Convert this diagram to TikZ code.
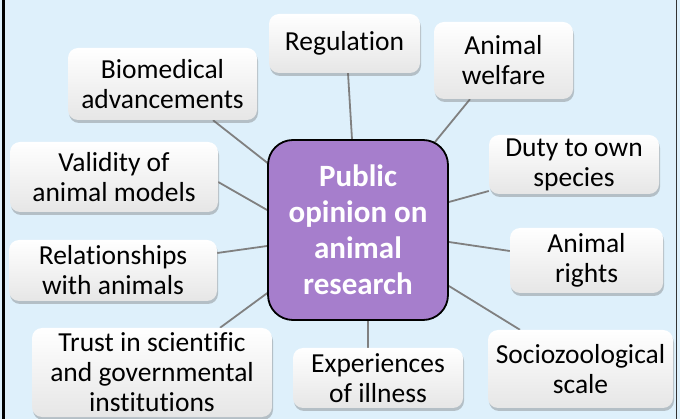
\documentclass[tikz,border=0pt]{standalone}
\usepackage{fontspec}
\setmainfont[Ligatures=NoCommon]{Carlito}
\usetikzlibrary{shadows}
\pgfdeclarelayer{canvasbg}
\pgfdeclarelayer{connectors}
\pgfsetlayers{canvasbg,connectors,main}
\definecolor{bgblue}{RGB}{222,240,251}
\definecolor{pubpurple}{RGB}{166,126,204}
\definecolor{conngray}{RGB}{128,128,128}
\definecolor{boxbottom}{RGB}{230,230,230}
\tikzset{
  topic/.style={rounded corners=10pt, top color=white, bottom color=boxbottom,
    draw=none, align=center, inner sep=0pt,
    font=\fontsize{27.5}{30}\selectfont,
    drop shadow={shadow xshift=1pt, shadow yshift=-3pt, opacity=0.35, fill=black!60}},
  hub/.style={rounded corners=25pt, fill=pubpurple, draw=black, line width=1.8pt,
    align=center, inner sep=0pt, text=white,
    font=\fontsize{31}{36}\selectfont\bfseries,
    minimum width=180pt, minimum height=180pt},
  conn/.style={draw=conngray, line width=1.8pt}
}
\begin{document}
\begin{tikzpicture}[x=1pt,y=-1pt]
\useasboundingbox (0,0) rectangle (680,419);
\begin{pgfonlayer}{canvasbg}
\fill[bgblue] (0,0) rectangle (680,419);
\draw[black, line width=2.5pt] (3.5,0) -- (3.5,419);
\draw[black!80, line width=1.5pt] (676.5,0) -- (676.5,419);
\end{pgfonlayer}

\node[hub] (pub) at (358,230) {Public\\opinion on\\animal\\research};

\node[topic, minimum width=151pt, minimum height=59pt] (reg) at (344.5,43.5) {Regulation};
\node[topic, minimum width=139pt, minimum height=77pt] (welf) at (503.5,60.5) {Animal\\welfare};
\node[topic, minimum width=170pt, minimum height=59pt] (duty) at (574,164.5) {Duty to own\\species};
\node[topic, minimum width=189pt, minimum height=72pt] (bio) at (162.5,84) {Biomedical\\advancements};
\node[topic, minimum width=208pt, minimum height=70pt] (valid) at (114,177) {Validity of\\animal models};
\node[topic, minimum width=208pt, minimum height=61pt] (rel) at (113,270.5) {Relationships\\with animals};
\node[topic, minimum width=240pt, minimum height=89pt] (trust) at (152,372.5) {Trust in scientific\\and governmental\\institutions};
\node[topic, minimum width=170pt, minimum height=60pt] (exp) at (378,378) {Experiences\\of illness};
\node[topic, minimum width=153pt, minimum height=65pt] (rights) at (586.5,260.5) {Animal\\rights};
\node[topic, minimum width=185pt, minimum height=78pt] (socio) at (580.5,369) {Sociozoological\\scale};

\begin{pgfonlayer}{connectors}
\draw[conn] ([xshift=3.5pt]reg.south) -- ([xshift=-6pt]pub.north);
\draw[conn] ([xshift=-33.5pt]welf.south) -- ([xshift=-14pt,yshift=-3pt]pub.north east);
\draw[conn] ([yshift=-26.5pt]duty.west) -- ([yshift=28pt]pub.east);
\draw[conn] ([xshift=50.5pt]bio.south) -- ([xshift=3pt,yshift=65pt]pub.west);
\draw[conn] ([yshift=-5pt]valid.east) -- ([yshift=20pt]pub.west);
\draw[conn] ([yshift=17.5pt]rel.east) -- ([yshift=-16pt]pub.west);
\draw[conn] ([xshift=68pt]trust.north) -- ([xshift=3pt,yshift=-61pt]pub.west);
\draw[conn] ([xshift=-10pt]exp.north) -- ([xshift=10pt]pub.south);
\draw[conn] ([yshift=9.5pt]rights.west) -- ([yshift=-12pt]pub.east);
\draw[conn] ([xshift=-60.5pt]socio.north) -- ([yshift=-56pt]pub.east);
\end{pgfonlayer}
\end{tikzpicture}
\end{document}
